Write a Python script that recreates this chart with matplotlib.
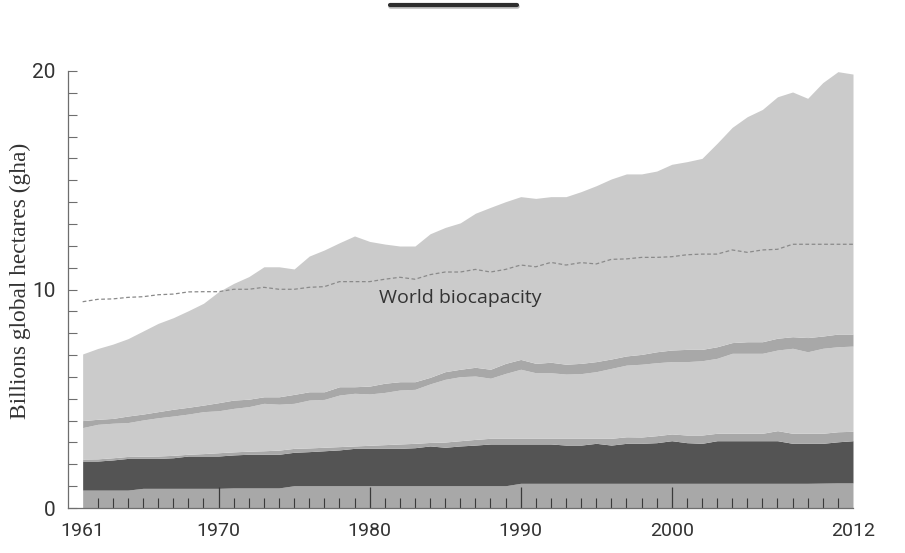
import matplotlib
matplotlib.use("Agg")
import matplotlib.pyplot as plt
from matplotlib.lines import Line2D
from matplotlib.ticker import FixedLocator

# Years 1961..2012
years = list(range(1961, 2013))

# Stacked boundaries (billions gha), bottom to top
base_top = [0.82, 0.82, 0.82, 0.82, 0.90, 0.90, 0.90, 0.90, 0.90, 0.90,
            0.92, 0.92, 0.92, 0.92, 1.02, 1.02, 1.02, 1.02, 1.02, 1.02,
            1.02, 1.02, 1.02, 1.02, 1.02, 1.02, 1.02, 1.02, 1.02, 1.13,
            1.13, 1.13, 1.13, 1.13, 1.13, 1.13, 1.13, 1.13, 1.13, 1.13,
            1.13, 1.13, 1.13, 1.13, 1.13, 1.13, 1.13, 1.13, 1.13, 1.14,
            1.15, 1.15]
dark_top = [2.15, 2.15, 2.20, 2.27, 2.27, 2.27, 2.30, 2.38, 2.38, 2.38,
            2.43, 2.46, 2.46, 2.46, 2.55, 2.58, 2.62, 2.66, 2.73, 2.73,
            2.73, 2.73, 2.76, 2.84, 2.78, 2.84, 2.88, 2.93, 2.93, 2.93,
            2.93, 2.93, 2.88, 2.88, 2.96, 2.88, 2.96, 2.96, 2.99, 3.08,
            2.99, 2.96, 3.08, 3.08, 3.08, 3.08, 3.08, 2.96, 2.96, 2.96,
            3.03, 3.08]
thin_top = [2.24, 2.25, 2.30, 2.36, 2.37, 2.38, 2.41, 2.46, 2.49, 2.53,
            2.57, 2.60, 2.62, 2.65, 2.73, 2.75, 2.78, 2.81, 2.84, 2.87,
            2.90, 2.93, 2.96, 3.00, 3.02, 3.08, 3.14, 3.19, 3.19, 3.19,
            3.19, 3.19, 3.19, 3.19, 3.19, 3.19, 3.26, 3.25, 3.31, 3.39,
            3.34, 3.34, 3.42, 3.42, 3.42, 3.42, 3.54, 3.42, 3.42, 3.42,
            3.49, 3.51]
middle_top = [3.68, 3.83, 3.88, 3.91, 4.03, 4.13, 4.21, 4.30, 4.41, 4.45,
              4.56, 4.64, 4.79, 4.75, 4.79, 4.94, 4.97, 5.17, 5.25, 5.22,
              5.29, 5.40, 5.43, 5.68, 5.89, 6.01, 6.04, 5.94, 6.16, 6.35,
              6.19, 6.19, 6.13, 6.15, 6.24, 6.39, 6.54, 6.58, 6.65, 6.70,
              6.70, 6.74, 6.85, 7.08, 7.08, 7.08, 7.23, 7.31, 7.15, 7.31,
              7.38, 7.41]
stripe_top = [4.00, 4.06, 4.10, 4.21, 4.30, 4.41, 4.52, 4.61, 4.71, 4.82,
              4.94, 4.98, 5.09, 5.09, 5.20, 5.32, 5.32, 5.55, 5.55, 5.58,
              5.71, 5.78, 5.78, 5.98, 6.24, 6.35, 6.44, 6.35, 6.62, 6.80,
              6.62, 6.67, 6.58, 6.62, 6.70, 6.82, 6.96, 7.03, 7.15, 7.23,
              7.26, 7.26, 7.38, 7.57, 7.61, 7.61, 7.77, 7.84, 7.80, 7.87,
              7.96, 7.96]
total = [7.05, 7.30, 7.50, 7.75, 8.10, 8.45, 8.71, 9.03, 9.37, 9.90,
         10.28, 10.59, 11.04, 11.04, 10.94, 11.53, 11.81, 12.14, 12.45, 12.20,
         12.08, 11.99, 11.99, 12.55, 12.84, 13.05, 13.49, 13.76, 14.02, 14.25,
         14.17, 14.25, 14.25, 14.48, 14.75, 15.06, 15.29, 15.29, 15.42, 15.73,
         15.85, 16.00, 16.69, 17.42, 17.91, 18.24, 18.82, 19.04, 18.75, 19.47,
         19.97, 19.86]
biocapacity = [9.44, 9.55, 9.57, 9.64, 9.67, 9.76, 9.79, 9.89, 9.90, 9.90,
               10.01, 10.01, 10.10, 10.01, 10.01, 10.10, 10.13, 10.36, 10.36, 10.36,
               10.47, 10.56, 10.47, 10.68, 10.80, 10.80, 10.92, 10.80, 10.92, 11.12,
               11.04, 11.24, 11.12, 11.23, 11.17, 11.38, 11.40, 11.47, 11.47, 11.50,
               11.59, 11.62, 11.62, 11.81, 11.70, 11.81, 11.84, 12.07, 12.07, 12.07,
               12.07, 12.07]

x_labels = [1961, 1970, 1980, 1990, 2000, 2012]

LIGHT = "#cbcbcb"
MEDIUM = "#a8a8a8"
DARK = "#545454"
AXIS = "#6e6e6e"
TEXT = "#333333"

fig = plt.figure(figsize=(9.05, 5.53), dpi=100)
ax = fig.add_axes([68 / 905, 1 - 508 / 553, 785 / 905, 437 / 553])

zeros = [0] * len(years)
layers = [
    (zeros, base_top, MEDIUM),
    (base_top, dark_top, DARK),
    (dark_top, thin_top, MEDIUM),
    (thin_top, middle_top, LIGHT),
    (middle_top, stripe_top, MEDIUM),
    (stripe_top, total, LIGHT),
]
for lower, upper, color in layers:
    ax.fill_between(years, lower, upper, color=color, lw=0, zorder=1)

ax.plot(years, biocapacity, color="#8a8a8a", lw=0.9, ls=(0, (3, 2)), zorder=2)
ax.text(1986, 9.6, "World biocapacity", ha="center", va="center",
        fontsize=14, color=TEXT, family=["Open Sans", "DejaVu Sans"])

ax.set_xlim(1960.03, 2012)
ax.set_ylim(0, 20)

for side in ["top", "right"]:
    ax.spines[side].set_visible(False)
for side in ["left", "bottom"]:
    ax.spines[side].set_color(AXIS)
    ax.spines[side].set_linewidth(0.9)

ax.set_yticks([0, 10, 20])
ax.yaxis.set_minor_locator(FixedLocator(range(0, 21)))
ax.tick_params(axis="y", which="both", direction="in", length=6.5, width=0.8,
               color=AXIS, pad=9, labelsize=15, labelcolor=TEXT)

ax.set_xticks(x_labels)
ax.xaxis.set_minor_locator(FixedLocator(range(1962, 2012)))
ax.tick_params(axis="x", which="major", direction="in", length=15, width=0.9,
               color="#3a3a3a", pad=10, labelsize=14, labelcolor=TEXT)
ax.tick_params(axis="x", which="minor", direction="in", length=7, width=0.8,
               color="#3a3a3a")
for tick, yr in zip(ax.xaxis.get_major_ticks(), x_labels):
    if yr in (1961, 2012):
        tick.tick1line.set_visible(False)

for label in ax.get_xticklabels() + ax.get_yticklabels():
    label.set_family("Roboto")

ax.set_ylabel("Billions global hectares (gha)", fontsize=16.8, color=TEXT,
              family=["Liberation Serif", "DejaVu Serif"])
ax.yaxis.set_label_coords(-0.047, 0.52)

fig.add_artist(Line2D([390 / 905, 517 / 905], [1 - 5.5 / 553] * 2,
                      lw=3.3, color="#bdbdbd", solid_capstyle="round"))
fig.add_artist(Line2D([390 / 905, 517 / 905], [1 - 4.5 / 553] * 2,
                      lw=3.0, color="#2e2e2e", solid_capstyle="round"))

fig.savefig("out.png", dpi=100)
